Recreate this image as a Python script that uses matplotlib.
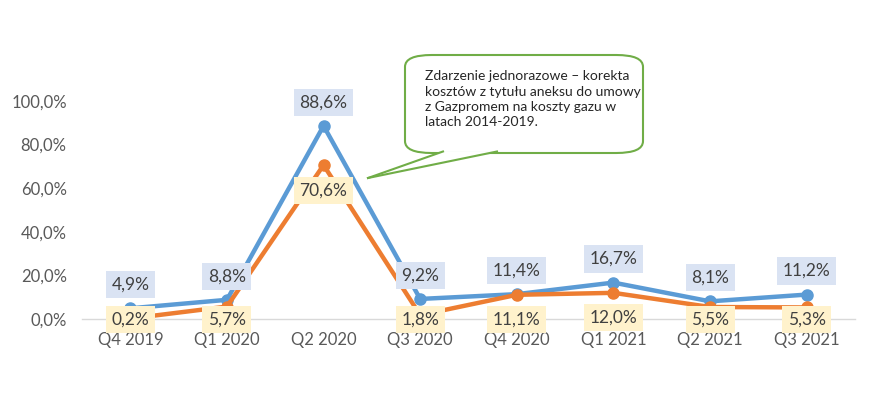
import matplotlib
matplotlib.use('Agg')
import matplotlib.pyplot as plt
from matplotlib.patches import FancyBboxPatch, Polygon
from matplotlib.lines import Line2D

# quarterly change, two series, values in percent
quarters = ["Q4 2019", "Q1 2020", "Q2 2020", "Q3 2020", "Q4 2020", "Q1 2021", "Q2 2021", "Q3 2021"]
blue_vals = [4.9, 8.8, 88.6, 9.2, 11.4, 16.7, 8.1, 11.2]
orange_vals = [0.2, 5.7, 70.6, 1.8, 11.1, 12.0, 5.5, 5.3]
yticks = [0, 20, 40, 60, 80, 100]
note = ("Zdarzenie jednorazowe \u2013 korekta\n"
        "kosztów z tytułu aneksu do umowy\n"
        "z Gazpromem na koszty gazu w\n"
        "latach 2014-2019.")

plt.rcParams['font.family'] = ['Lato', 'DejaVu Sans']
W, H = 893, 393
fig = plt.figure(figsize=(W / 100, H / 100), dpi=100)
ax = fig.add_axes([82 / W, 1 - 319 / H, (855 - 82) / W, (319 - 101) / H])

BLUE = "#5B9BD5"
ORANGE = "#ED7D31"
TXT = "#404040"

x = list(range(len(quarters)))
ax.plot(x, blue_vals, color=BLUE, lw=3.2, marker="o", ms=8, zorder=3, solid_capstyle="round")
ax.plot(x, orange_vals, color=ORANGE, lw=3.2, marker="o", ms=8, zorder=4, solid_capstyle="round")

fmt = lambda v: f"{v:.1f}%".replace(".", ",")

# data labels: blue above, orange below (clamped near the axis like excel does)
for i, v in enumerate(blue_vals):
    ax.annotate(fmt(v), (i, v), xytext=(0, 17), textcoords="offset points",
                ha="center", va="center", fontsize=12.5, color=TXT, zorder=6,
                bbox=dict(boxstyle="square,pad=0.32", fc="#DAE3F3", ec="none"))
for i, v in enumerate(orange_vals):
    ly = max(v - 11.5, -0.3)
    ax.text(i, ly, fmt(v), ha="center", va="center", fontsize=12.5, color=TXT, zorder=6,
            bbox=dict(boxstyle="square,pad=0.32", fc="#FFF2CC", ec="none"))

ax.set_xlim(-0.5, len(quarters) - 0.5)
ax.set_ylim(0, 100)
ax.set_yticks(yticks)
ax.set_yticklabels([fmt(t) for t in yticks])
ax.set_xticks(x)
ax.set_xticklabels(quarters)
ax.tick_params(length=0, labelsize=12, labelcolor="#595959")
ax.tick_params(axis="y", pad=11)
ax.tick_params(axis="x", pad=9)
for s in ["top", "left", "right"]:
    ax.spines[s].set_visible(False)
ax.spines["bottom"].set_color("#D9D9D9")
ax.spines["bottom"].set_linewidth(1)

# callout with tail, drawn in figure pixels
def px(xp, yp):
    return (xp / W, 1 - yp / H)

GREEN = "#70AD47"
x0, y0, x1, y1 = 405, 55, 643, 153
box = FancyBboxPatch(px(x0, y1), (x1 - x0) / W, (y1 - y0) / H,
                     boxstyle="round,pad=0,rounding_size=0.03", transform=fig.transFigure,
                     fc="white", ec=GREEN, lw=1.5, zorder=10)
fig.patches.append(box)
tail = [px(443, y1 - 1.5), px(368, 178), px(497, y1 - 1.5)]
fig.patches.append(Polygon(tail, closed=True, transform=fig.transFigure,
                           fc="white", ec="none", zorder=11))
for a, b in [(tail[0], tail[1]), (tail[1], tail[2])]:
    fig.lines.append(Line2D([a[0], b[0]], [a[1], b[1]], transform=fig.transFigure,
                            color=GREEN, lw=1.5, zorder=12))
fig.text(425 / W, 1 - 70 / H, note, ha="left", va="top", fontsize=10,
         color="#262626", linespacing=1.35, zorder=13)

fig.savefig("out.png", dpi=100, facecolor="white")
